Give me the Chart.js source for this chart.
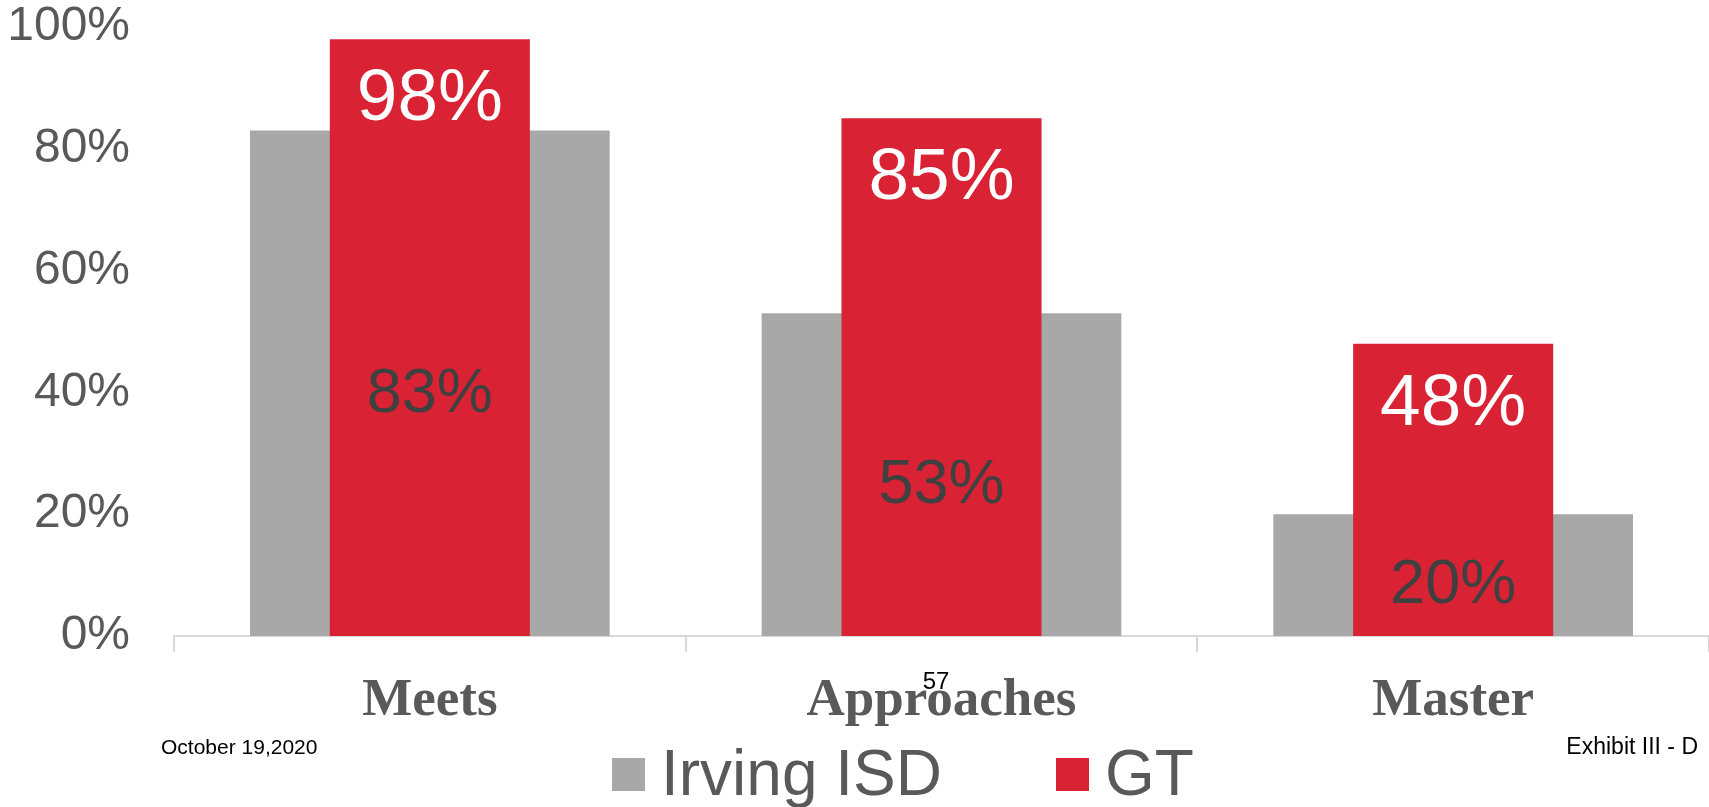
<!DOCTYPE html>
<html>
<head>
<meta charset="utf-8">
<script src="https://cdn.jsdelivr.net/npm/chart.js@4.4.1/dist/chart.umd.min.js"></script>
<style>
  html, body { margin: 0; padding: 0; background: #fff; }
  #wrap { position: relative; width: 1709px; height: 807px; }
</style>
</head>
<body>
<div id="wrap"><canvas id="examChart"></canvas></div>
<script>
// data
const categories = ['Meets', 'Approaches', 'Master'];
const seriesNames = ['Irving ISD', 'GT'];
const irvingValues = [83, 53, 20];
const gtValues = [98, 85, 48];
const yTicks = [0, 20, 40, 60, 80, 100];

const GRAY = '#a8a8a8';
const RED = '#d92335';
const TEXT = '#595959';
const SANS = '"Liberation Sans", Arial, sans-serif';
const SERIF = '"Liberation Serif", "Times New Roman", serif';

// value labels inside the bars
const barLabels = {
  id: 'barLabels',
  afterDatasetsDraw(chart) {
    const ctx = chart.ctx;
    ctx.save();
    ctx.textAlign = 'center';
    ctx.textBaseline = 'middle';
    chart.getDatasetMeta(0).data.forEach((bar, i) => {
      ctx.font = '63px ' + SANS;
      ctx.fillStyle = '#404040';
      ctx.fillText(irvingValues[i] + '%', bar.x, (bar.y + bar.base) / 2 + 11);
    });
    chart.getDatasetMeta(1).data.forEach((bar, i) => {
      ctx.font = '73px ' + SANS;
      ctx.fillStyle = '#ffffff';
      ctx.fillText(gtValues[i] + '%', bar.x, bar.y + 61);
    });
    ctx.restore();
  }
};

// legend and slide footer
const slideExtras = {
  id: 'slideExtras',
  afterDraw(chart) {
    const ctx = chart.ctx;
    const ds = chart.data.datasets;
    ctx.save();
    // legend
    const items = [{ box: 612, text: 661 }, { box: 1056, text: 1105 }];
    items.forEach((it, i) => {
      ctx.fillStyle = ds[i].backgroundColor;
      ctx.fillRect(it.box, 758, 33, 33);
      ctx.fillStyle = TEXT;
      ctx.font = '64px ' + SANS;
      ctx.textAlign = 'left';
      ctx.textBaseline = 'alphabetic';
      ctx.fillText(ds[i].label, it.text, 795);
    });
    // footer
    ctx.fillStyle = '#000';
    ctx.textBaseline = 'middle';
    ctx.font = '21px ' + SANS;
    ctx.textAlign = 'left';
    ctx.fillText('October 19,2020', 161, 748);
    ctx.font = '23px ' + SANS;
    ctx.textAlign = 'right';
    ctx.fillText('Exhibit III - D', 1698, 748);
    ctx.font = '24px ' + SANS;
    ctx.textAlign = 'center';
    ctx.fillText('57', 936, 682);
    ctx.restore();
  }
};

new Chart(document.getElementById('examChart'), {
  type: 'bar',
  data: {
    labels: categories,
    datasets: [
      {
        label: seriesNames[0],
        data: irvingValues,
        backgroundColor: GRAY,
        grouped: false,
        order: 2,
        barPercentage: 0.703,
        categoryPercentage: 1
      },
      {
        label: seriesNames[1],
        data: gtValues,
        backgroundColor: RED,
        grouped: false,
        order: 1,
        barPercentage: 0.391,
        categoryPercentage: 1
      }
    ]
  },
  options: {
    responsive: true,
    maintainAspectRatio: false,
    animation: false,
    layout: { padding: 0 },
    plugins: {
      legend: { display: false },
      tooltip: { enabled: false }
    },
    scales: {
      x: {
        offset: true,
        grid: {
          display: true,
          offset: true,
          drawOnChartArea: false,
          drawTicks: true,
          tickLength: 16,
          color: '#d9d9d9',
          lineWidth: 2
        },
        border: { display: true, color: '#d9d9d9', width: 2 },
        ticks: {
          color: TEXT,
          padding: 18,
          font: { family: SERIF, size: 53, weight: 'bold' }
        },
        afterFit(scale) { scale.height = 171; }
      },
      y: {
        min: 0,
        max: 100,
        grid: { display: false },
        border: { display: false },
        afterBuildTicks(scale) { scale.ticks = yTicks.map(v => ({ value: v })); },
        ticks: {
          color: TEXT,
          padding: 36,
          font: { family: SANS, size: 48 },
          callback: v => v + '%'
        },
        afterFit(scale) {
          scale.width = 174;
          scale.paddingTop = 27;
          scale.paddingBottom = 0;
        }
      }
    }
  },
  plugins: [barLabels, slideExtras]
});
</script>
</body>
</html>
